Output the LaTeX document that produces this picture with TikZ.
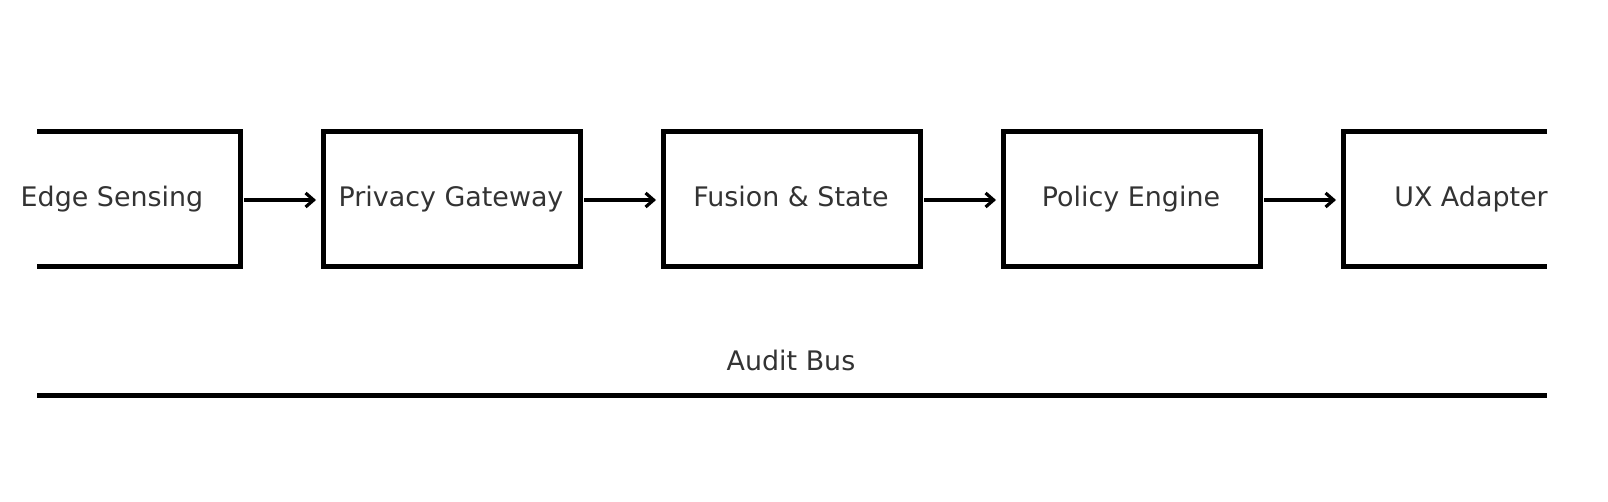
\documentclass[tikz,border=0pt]{standalone}
\usepackage{fontspec}
\setmainfont{DejaVu Sans}
\usetikzlibrary{arrows.meta}
\definecolor{txt}{HTML}{333333}
\begin{document}
\begin{tikzpicture}[x=1bp,y=-1bp,
  edge/.style={line width=5bp},
  arr/.style={line width=3.2bp,-{Straight Barb[length=8bp,width=14bp]}},
  lbl/.style={text=txt,font=\fontsize{27}{32}\selectfont,text height=19bp,text depth=6bp,inner sep=0pt}]
\useasboundingbox (0,0) rectangle (1608,502);
\draw[edge] (37,132) -- (240,132) -- (240,267) -- (37,267);
\draw[edge] (323,132) rectangle (580,267);
\draw[edge] (663,132) rectangle (920,267);
\draw[edge] (1003,132) rectangle (1260,267);
\draw[edge] (1547,132) -- (1343,132) -- (1343,267) -- (1547,267);
\node[lbl] (a) at (112,200) {Edge Sensing};
\node[lbl] (b) at (451,200) {Privacy Gateway};
\node[lbl] (c) at (791,200) {Fusion \& State};
\node[lbl] (d) at (1131,200) {Policy Engine};
\node[lbl] (e) at (1471,200) {UX Adapter};
\coordinate (a1) at (244,200); \coordinate (b0) at (316,200);
\coordinate (b1) at (584,200); \coordinate (c0) at (656,200);
\coordinate (c1) at (924,200); \coordinate (d0) at (996,200);
\coordinate (d1) at (1264,200); \coordinate (e0) at (1336,200);
\draw[arr] (a1) -- (b0);
\draw[arr] (b1) -- (c0);
\draw[arr] (c1) -- (d0);
\draw[arr] (d1) -- (e0);
\node[lbl] (bus) at (791,364) {Audit Bus};
\coordinate (l0) at (37,395); \coordinate (l1) at (1547,395);
\draw[edge] (l0) -- (l1);
\end{tikzpicture}
\end{document}
